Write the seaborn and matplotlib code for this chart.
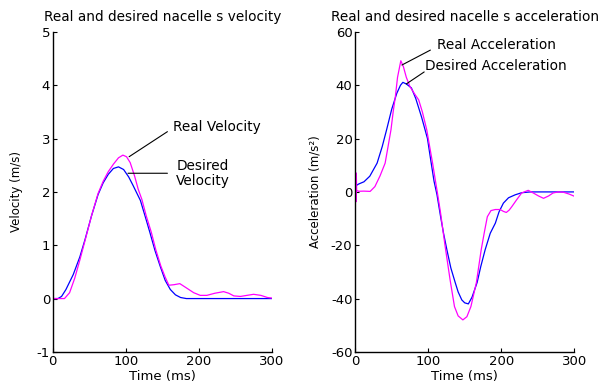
import numpy as np
import pandas as pd
import matplotlib
matplotlib.use("Agg")
import matplotlib.pyplot as plt
import seaborn as sns

# velocity (m/s), left panel
vel_des_t = [0, 7, 12, 18, 28, 37, 44, 53, 62, 69, 76, 83, 90, 97, 104, 110, 115, 120, 127, 133, 140, 147, 154, 161, 168, 175, 183, 300]
vel_des_v = [0, 0, 0.04, 0.17, 0.45, 0.78, 1.1, 1.55, 1.95, 2.17, 2.33, 2.44, 2.47, 2.42, 2.28, 2.12, 1.98, 1.84, 1.52, 1.24, 0.9, 0.61, 0.34, 0.17, 0.07, 0.02, 0, 0]
vel_real_t = [0, 16, 23, 30, 37, 44, 53, 62, 69, 76, 83, 90, 96, 101, 106, 112, 117, 122, 128, 135, 141, 148, 154, 159,
              166, 174, 183, 193, 202, 211, 222, 234, 241, 248, 257, 266, 275, 285, 294, 300]
vel_real_v = [0, 0, 0.11, 0.38, 0.72, 1.08, 1.55, 1.97, 2.2, 2.38, 2.52, 2.64, 2.69, 2.66, 2.55, 2.3, 2.05, 1.86, 1.55, 1.24, 0.92, 0.61, 0.4, 0.25,
              0.26, 0.28, 0.2, 0.11, 0.06, 0.06, 0.1, 0.13, 0.1, 0.05, 0.04, 0.06, 0.08, 0.06, 0.02, 0.01]

# acceleration (m/s^2), right panel
acc_des_t = [0, 0.5, 1, 1.5, 2, 5, 12, 20, 30, 37, 43, 50, 57, 62, 65.3, 70, 77, 83, 91, 99, 104, 108, 112, 117, 121, 125.6,
             131, 137, 141, 146, 150, 155, 160, 167, 172, 178, 185, 192, 197, 203, 210, 219, 228, 240, 300]
acc_des_a = [7, 2.5, 7, 2.7, 2.5, 3, 3.8, 5.9, 10.8, 17, 23.3, 31, 37, 40, 41.1, 40.5, 39, 35, 28, 20, 11, 4, -1, -9.3, -15.5, -21.7,
             -28.5, -34, -37.5, -40.5, -41.6, -42, -39.5, -34, -28, -21.7, -15.5, -11.7, -7.5, -4.2, -2.2, -1.1, -0.3, 0, 0]
acc_real_t = [0, 0.5, 1, 1.5, 2, 5, 12, 20.5, 27, 34, 41, 45, 49, 52, 55, 58, 62.5, 66, 70, 75, 82, 87, 92, 98, 102, 106, 110,
              113, 117, 123, 130, 136, 141, 147.5, 153, 158.5, 166, 172.6, 177, 181, 186, 192, 198.6, 203, 207, 211, 214.6,
              221, 228, 237, 244, 251, 258, 265, 271, 278, 285, 293, 300]
acc_real_a = [-3.7, 7.2, -3.7, 7, 0.5, 0.25, 0.3, 0.2, 2, 6, 10.8, 17, 23.3, 30, 35.7, 43, 49.2, 47, 43, 39.5, 36.5, 34.5, 30, 23.3, 17, 10.8, 4,
              -1, -8, -20, -33, -43, -46.5, -48, -46.8, -43, -34, -21.7, -15, -9.3, -7, -6.6, -6.6, -7.3, -7.7, -6.8, -5.5,
              -3, -0.4, 0.6, -0.4, -1.5, -2.4, -1.5, -0.4, 0, -0.1, -0.8, -1.6]

vel_df = pd.concat([
    pd.DataFrame({"t": vel_des_t, "v": vel_des_v, "kind": "Desired"}),
    pd.DataFrame({"t": vel_real_t, "v": vel_real_v, "kind": "Real"}),
])
acc_df = pd.concat([
    pd.DataFrame({"t": acc_des_t, "a": acc_des_a, "kind": "Desired"}),
    pd.DataFrame({"t": acc_real_t, "a": acc_real_a, "kind": "Real"}),
])
palette = {"Desired": "#0000FF", "Real": "#FF00FF"}

sns.set_theme(style="ticks")
plt.rcParams["font.family"] = ["DejaVu Sans"]
plt.rcParams["xtick.direction"] = "in"
plt.rcParams["ytick.direction"] = "in"
plt.rcParams["axes.unicode_minus"] = False
plt.rcParams["text.color"] = "black"
plt.rcParams["axes.labelcolor"] = "black"

fig = plt.figure(figsize=(6, 3.85), dpi=100)
ax1 = fig.add_axes([0.088, 0.086, 0.365, 0.831])
ax2 = fig.add_axes([0.592, 0.086, 0.365, 0.831])

sns.lineplot(data=vel_df, x="t", y="v", hue="kind", palette=palette, hue_order=["Desired", "Real"],
             estimator=None, sort=False, linewidth=0.9, legend=False, ax=ax1)
sns.lineplot(data=acc_df, x="t", y="a", hue="kind", palette=palette, hue_order=["Desired", "Real"],
             estimator=None, sort=False, linewidth=0.9, legend=False, ax=ax2)

for ax in (ax1, ax2):
    ax.set_xlim(0, 300)
    ax.set_xticks([0, 100, 200, 300])
    sns.despine(ax=ax)
    for side in ("left", "bottom"):
        ax.spines[side].set_linewidth(1.0)
        ax.spines[side].set_color("black")
    ax.tick_params(length=3, width=0.8, labelsize=9.5, pad=2, colors="black")
    ax.set_xlabel("Time (ms)", fontsize=9.5, labelpad=2)

ax1.set_ylim(-1, 5)
ax1.set_yticks(range(-1, 6))
ax1.set_ylabel("Velocity (m/s)", fontsize=8.5, labelpad=10)
ax1.set_title("Real and desired nacelle s velocity", fontsize=9.8, pad=8)

ax2.set_ylim(-60, 60)
ax2.set_yticks(range(-60, 61, 20))
ax2.set_ylabel("Acceleration (m/s²)", fontsize=8.5, labelpad=7)
ax2.set_title("Real and desired nacelle s acceleration", fontsize=9.8, pad=8)

line = dict(arrowstyle="-", color="black", linewidth=0.8, shrinkA=0, shrinkB=0)
ax1.annotate("", xy=(104.5, 2.66), xytext=(157, 3.13), arrowprops=line)
ax1.text(165, 3.21, "Real Velocity", fontsize=9.8, va="center", ha="left")
ax1.annotate("", xy=(103, 2.35), xytext=(157, 2.35), arrowprops=line)
ax1.text(169, 2.35, "Desired\nVelocity", fontsize=9.8, va="center", ha="left", linespacing=1.1)

ax2.annotate("", xy=(64, 47.6), xytext=(103, 53.2), arrowprops=line)
ax2.text(112, 55, "Real Acceleration", fontsize=9.8, va="center", ha="left")
ax2.annotate("", xy=(70, 40.5), xytext=(94.5, 45), arrowprops=line)
ax2.text(96, 47.2, "Desired Acceleration", fontsize=9.8, va="center", ha="left")

fig.savefig("out.png", dpi=100, facecolor="white")
